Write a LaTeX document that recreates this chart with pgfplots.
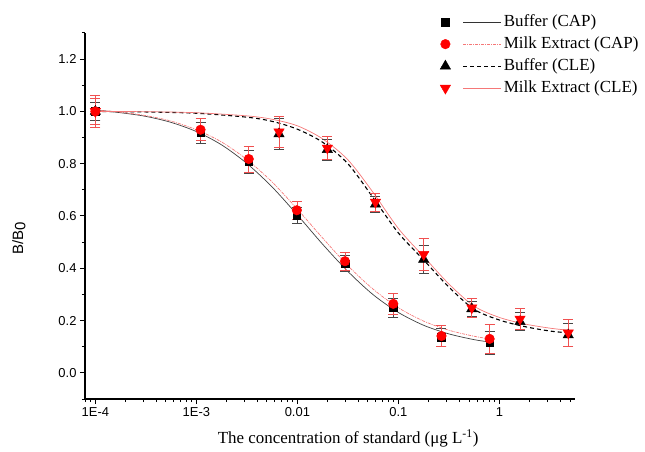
\documentclass[border=0pt]{standalone}
\usepackage{fontspec}
\setmainfont{Liberation Serif}
\newfontfamily\arial{Liberation Sans}
\usepackage{pgfplots}
\pgfplotsset{compat=1.18}

\definecolor{barred}{RGB}{240,80,80}
\definecolor{bargray}{RGB}{70,70,70}
\definecolor{pinkline}{RGB}{245,120,120}

% x, y, error
\pgfplotstableread{
x y e
1e-4 1.000 0.035
1.1e-3 0.918 0.042
3.3e-3 0.808 0.045
0.00988 0.603 0.030
0.0296 0.418 0.030
0.089 0.249 0.035
0.267 0.137 0.035
0.8 0.115 0.045
}\capbuf
\pgfplotstableread{
x y e
1e-4 1.000 0.060
1.1e-3 0.930 0.042
3.3e-3 0.818 0.050
0.00988 0.622 0.035
0.0296 0.427 0.035
0.089 0.264 0.040
0.267 0.141 0.040
0.8 0.130 0.055
}\capmilk
\pgfplotstableread{
x y e
1e-4 1.000 0.035
6.58e-3 0.914 0.060
0.0198 0.854 0.040
0.0593 0.645 0.030
0.178 0.434 0.055
0.533 0.245 0.030
1.6 0.196 0.035
4.8 0.145 0.045
}\clebuf
\pgfplotstableread{
x y e
1e-4 1.000 0.050
6.58e-3 0.922 0.060
0.0198 0.860 0.045
0.0593 0.653 0.035
0.178 0.453 0.060
0.533 0.249 0.035
1.6 0.206 0.040
4.8 0.153 0.050
}\clemilk

\begin{document}
\begin{tikzpicture}
\useasboundingbox (-85bp,-53bp) rectangle (560bp,399bp);
\begin{axis}[
  scale only axis,
  width=490bp, height=366bp,
  xmode=log,
  xmin=7.9e-5, xmax=5.6,
  ymin=-0.1, ymax=1.3,
  axis x line*=bottom, axis y line*=left,
  axis line style={-, line width=1.2bp},
  xtick={1e-4,1e-3,0.01,0.1,1},
  xticklabels={1E-4,1E-3,0.01,0.1,1},
  minor xtick={8e-5,9e-5,2e-4,3e-4,4e-4,5e-4,6e-4,7e-4,8e-4,9e-4,
    2e-3,3e-3,4e-3,5e-3,6e-3,7e-3,8e-3,9e-3,
    0.02,0.03,0.04,0.05,0.06,0.07,0.08,0.09,
    0.2,0.3,0.4,0.5,0.6,0.7,0.8,0.9,2,3,4,5},
  ytick={0,0.2,0.4,0.6,0.8,1.0,1.2},
  minor ytick={-0.1,0.1,0.3,0.5,0.7,0.9,1.1,1.3},
  tick align=outside,
  major tick length=5bp, minor tick length=3bp,
  every tick/.style={black, line width=1bp},
  tick label style={font={\arial\fontsize{13}{15}\selectfont}},
  yticklabel style={/pgf/number format/.cd, fixed, fixed zerofill, precision=1, assume math mode=true},
  xlabel={The concentration of standard (μg L\textsuperscript{-1})},
  ylabel={B/B\raisebox{-0.3ex}{0}},
  every axis x label/.style={at={(axis description cs:0.537,-0.107)}, anchor=center,
    font=\fontsize{17}{20}\selectfont},
  every axis y label/.style={at={(axis description cs:-0.135,0.44)}, rotate=90, anchor=center,
    font={\arial\fontsize{15}{18}\selectfont}},
  legend style={at={(0.718,1.063)}, anchor=north west, draw=none, fill=none,
    font=\fontsize{17}{20}\selectfont, row sep=2bp,
    nodes={inner sep=2bp, text height=12bp, text depth=4bp}},
  legend cell align=left,
  clip=false,
]
\addlegendimage{legend image code/.code={
  \fill[black] (-3.8bp,-3.8bp) rectangle (3.8bp,3.8bp);
  \draw[black!80, line width=0.6bp] (18bp,0bp) -- (56bp,0bp);}}
\addlegendentry{Buffer (CAP)}
\addlegendimage{legend image code/.code={
  \fill[red] (0bp,0bp) circle (4.8bp);
  \draw[pinkline, line width=0.6bp, dash pattern=on 3bp off 1bp on 1bp off 1bp] (18bp,0bp) -- (56bp,0bp);}}
\addlegendentry{Milk Extract (CAP)}
\addlegendimage{legend image code/.code={
  \fill[black] (90:6bp) -- (210:6bp) -- (330:6bp) -- cycle;
  \draw[black, line width=1bp, dash pattern=on 4bp off 3bp] (18bp,0bp) -- (56bp,0bp);}}
\addlegendentry{Buffer (CLE)}
\addlegendimage{legend image code/.code={
  \fill[red] (270:6bp) -- (30:6bp) -- (150:6bp) -- cycle;
  \draw[pinkline, line width=0.6bp] (18bp,0bp) -- (56bp,0bp);}}
\addlegendentry{Milk Extract (CLE)}

% fitted curves
\addplot[black!75, line width=0.7bp, smooth, forget plot] coordinates {
(1e-4,1.005)(1.778e-4,0.995)(3.162e-4,0.981)(5.623e-4,0.958)(1e-3,0.923)
(1.778e-3,0.872)(3.162e-3,0.801)(5.623e-3,0.711)(0.01,0.604)(0.01778,0.492)
(0.03162,0.388)(0.05623,0.299)(0.1,0.231)(0.1778,0.182)(0.3162,0.149)
(0.5623,0.127)(0.8,0.118)};
\addplot[pinkline, line width=0.7bp, smooth, dash pattern=on 3bp off 1bp on 1bp off 1bp, forget plot] coordinates {
(1e-4,1.006)(1.778e-4,0.997)(3.162e-4,0.984)(5.623e-4,0.963)(1e-3,0.930)
(1.778e-3,0.883)(3.162e-3,0.816)(5.623e-3,0.730)(0.01,0.626)(0.01778,0.516)
(0.03162,0.410)(0.05623,0.320)(0.1,0.249)(0.1778,0.198)(0.3162,0.163)
(0.5623,0.140)(0.8,0.130)};
\addplot[black, line width=1.1bp, smooth, dash pattern=on 4bp off 3bp, forget plot] coordinates {
(1e-4,1.000)(3.162e-4,0.998)(1e-3,0.993)(3.162e-3,0.978)(5.623e-3,0.962)
(0.01,0.932)(0.01778,0.882)(0.03162,0.800)(0.05623,0.670)(0.1,0.535)
(0.1778,0.432)(0.3162,0.328)(0.5623,0.243)(1,0.202)(1.778,0.177)
(3.162,0.160)(4.8,0.153)};
\addplot[pinkline, line width=0.7bp, smooth, forget plot] coordinates {
(1e-4,1.000)(3.162e-4,0.999)(1e-3,0.995)(3.162e-3,0.983)(5.623e-3,0.970)
(0.01,0.945)(0.01778,0.895)(0.03162,0.815)(0.05623,0.690)(0.1,0.552)
(0.1778,0.445)(0.3162,0.340)(0.5623,0.255)(1,0.212)(1.778,0.187)
(3.162,0.171)(4.8,0.163)};

% data points with error bars
\addplot[only marks, mark=square*, mark size=3.8bp, black, forget plot,
  error bars/.cd, y dir=both, y explicit,
  error bar style={bargray, line width=0.7bp},
  error mark options={rotate=90, mark size=5bp, bargray, line width=0.7bp}]
  table[x=x, y=y, y error=e] {\capbuf};
\addplot[only marks, mark=triangle*, mark size=6bp, black, forget plot,
  error bars/.cd, y dir=both, y explicit,
  error bar style={bargray, line width=0.7bp},
  error mark options={rotate=90, mark size=5bp, bargray, line width=0.7bp}]
  table[x=x, y=y, y error=e] {\clebuf};
\addplot[only marks, mark=*, mark size=4.8bp, red, forget plot,
  error bars/.cd, y dir=both, y explicit,
  error bar style={barred, line width=0.7bp},
  error mark options={rotate=90, mark size=5bp, barred, line width=0.7bp}]
  table[x=x, y=y, y error=e] {\capmilk};
\addplot[only marks, mark=triangle*, mark size=6bp, red, mark options={rotate=180}, forget plot,
  error bars/.cd, y dir=both, y explicit,
  error bar style={barred, line width=0.7bp},
  error mark options={rotate=90, mark size=5bp, barred, line width=0.7bp}]
  table[x=x, y=y, y error=e] {\clemilk};
\end{axis}
\end{tikzpicture}
\end{document}
